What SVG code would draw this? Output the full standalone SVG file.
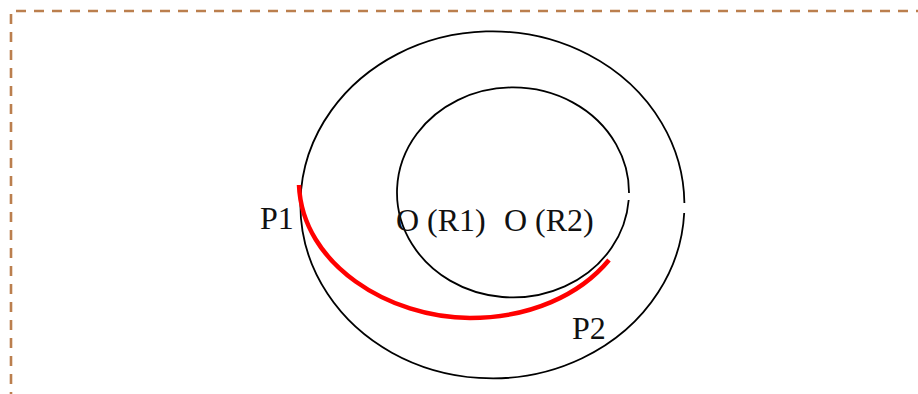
<svg xmlns="http://www.w3.org/2000/svg" width="918" height="394" viewBox="0 0 918 394">
<style>
.ring{fill:none;stroke:#000;stroke-width:1.8}
.border{fill:none;stroke:#bb7f4e;stroke-width:2.6;stroke-dasharray:10 8}
.lbl{font-family:"Liberation Serif","Times New Roman",serif;font-size:32px;fill:#111}
.arc{fill:none;stroke:#ff0000;stroke-width:4.5;stroke-linecap:butt}
</style>
<rect width="918" height="394" fill="#fff"/>
<g id="frame">
<path class="border" d="M11,420 V11 H930"/>
</g>
<g id="outer-circle">
<path class="ring" d="M684.4,203 A192,173.5 0 1 0 684.2,213"/>
</g>
<g id="inner-circle">
<path class="ring" d="M629,193 A116,105 0 1 0 628.7,200"/>
</g>
<g id="connectors">
<path class="arc" d="M299,185 C302,265 390,318 470,318 C530,318 580,295 609,260"/>
</g>
<g id="labels">
<text class="lbl" x="260" y="229">P1</text>
<text class="lbl" x="396" y="231">O (R1)</text>
<text class="lbl" x="504" y="231">O (R2)</text>
<text class="lbl" x="572" y="339">P2</text>
</g>
</svg>
